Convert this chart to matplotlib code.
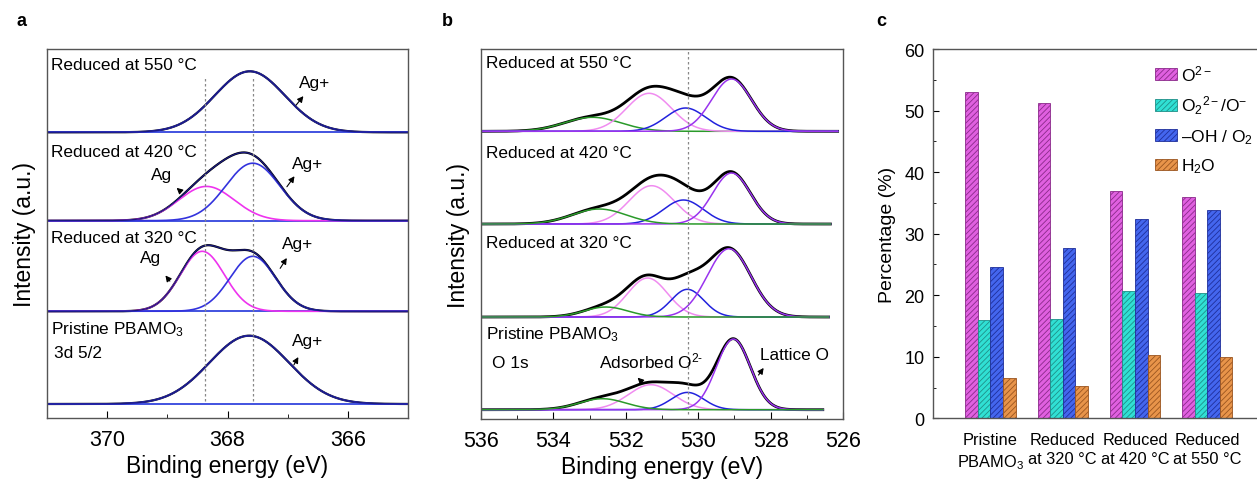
import matplotlib
matplotlib.use("Agg")
import matplotlib.pyplot as plt
import numpy as np
from matplotlib.ticker import MultipleLocator

plt.rcParams['font.family'] = ['Liberation Sans', 'DejaVu Sans']
plt.rcParams['mathtext.fontset'] = 'custom'
plt.rcParams['mathtext.rm'] = 'Liberation Sans'
plt.rcParams['mathtext.it'] = 'Liberation Sans:italic'
plt.rcParams['mathtext.bf'] = 'Liberation Sans:bold'
plt.rcParams['hatch.linewidth'] = 0.6

# ---- panel a: Ag 3d 5/2 fitted peaks (top to bottom) ----
a_names = ['Reduced at 550 °C', 'Reduced at 420 °C', 'Reduced at 320 °C', 'Pristine PBAMO$_3$']
a_agp_center = [367.63, 367.58, 367.58, 367.64]   # Ag+
a_agp_height = [0.61, 0.575, 0.55, 0.683]
a_agp_sigma = [0.58, 0.45, 0.38, 0.66]
a_ag_center = [368.35, 368.35, 368.42, 368.35]    # metallic Ag
a_ag_height = [0.0, 0.343, 0.60, 0.0]
a_ag_sigma = [0.46, 0.46, 0.37, 0.46]
a_marks = [368.37, 367.57]

# ---- panel b: O 1s fitted peaks (top to bottom) ----
b_names = ['Reduced at 550 °C', 'Reduced at 420 °C', 'Reduced at 320 °C', 'Pristine PBAMO$_3$']
b_green_c = [532.92, 532.74, 532.55, 532.65]
b_green_h = [0.14, 0.15, 0.10, 0.11]
b_green_s = [0.78, 0.75, 0.60, 0.65]
b_pink_c = [531.36, 531.29, 531.40, 531.31]
b_pink_h = [0.38, 0.383, 0.39, 0.25]
b_pink_s = [0.62, 0.62, 0.55, 0.62]
b_blue_c = [530.35, 530.41, 530.30, 530.30]
b_blue_h = [0.233, 0.24, 0.277, 0.173]
b_blue_s = [0.55, 0.55, 0.45, 0.45]
b_purp_c = [529.08, 529.08, 529.15, 529.03]
b_purp_h = [0.523, 0.51, 0.683, 0.707]
b_purp_s = [0.55, 0.52, 0.60, 0.47]
b_end = [526.15, 526.35, 526.4, 526.56]
b_mark = 530.28

# ---- panel c: oxygen species percentages ----
c_groups = ['Pristine\nPBAMO$_3$', 'Reduced\nat 320 °C', 'Reduced\nat 420 °C', 'Reduced\nat 550 °C']
c_series = ['O$^{2-}$', 'O$_2$$^{2-}$/O$^{-}$', '–OH / O$_2$', 'H$_2$O']
c_o2 = [53.0, 51.2, 36.9, 36.0]
c_o22 = [15.9, 16.2, 20.6, 20.3]
c_oh = [24.6, 27.6, 32.3, 33.9]
c_h2o = [6.6, 5.2, 10.3, 10.0]


def gauss(x, c, h, s):
    return h * np.exp(-(x - c) ** 2 / (2 * s ** 2))


def frame(ax):
    for sp in ax.spines.values():
        sp.set_color('#555555')
        sp.set_linewidth(1.0)


fig = plt.figure(figsize=(12.57, 4.85), dpi=100)

# ================= panel a =================
axa = fig.add_axes([0.0374, 0.1361, 0.2872, 0.7608])
a_base = [2.857, 1.973, 1.067, 0.14]
xa = np.linspace(371, 365, 600)
for i in range(4):
    b0 = a_base[i]
    agp = gauss(xa, a_agp_center[i], a_agp_height[i], a_agp_sigma[i])
    ag = gauss(xa, a_ag_center[i], a_ag_height[i], a_ag_sigma[i])
    axa.plot(xa, b0 + agp + ag, color='black', lw=1.6)
    axa.plot(xa, np.full_like(xa, b0), color='#3344dd', lw=1.3)
    if a_ag_height[i] > 0:
        axa.plot(xa, b0 + ag, color='#ee33ee', lw=1.2)
    axa.plot(xa, b0 + agp, color='#3333dd', lw=1.2)
    axa.plot(xa, b0 + agp + ag, color='#1a1a80', lw=0.9)
for m in a_marks:
    axa.plot([m, m], [0.17, 3.42], color='#888888', lw=0.9, ls=(0, (2, 2)))

txt = dict(fontsize=12.4, va='center', ha='left')
for name, y in zip(a_names, [3.54, 2.67, 1.80, 0.89]):
    axa.text(370.93, y, name, **txt)
axa.text(370.88, 0.657, '3d 5/2', **txt)
arr = dict(arrowstyle='-|>,head_length=0.35,head_width=0.18', color='black', lw=0.8)
a_notes = [('Ag+', (366.56, 3.357), (366.71, 3.24), (366.89, 3.107)),
           ('Ag+', (366.67, 2.54), (366.86, 2.44), (367.04, 2.29)),
           ('Ag', (369.09, 2.43), (368.88, 2.32), (368.75, 2.25)),
           ('Ag', (369.28, 1.607), (369.06, 1.447), (368.93, 1.347)),
           ('Ag+', (366.83, 1.74), (366.99, 1.623), (367.15, 1.473)),
           ('Ag+', (366.67, 0.773), (366.80, 0.633), (366.92, 0.507))]
for lab, tp, head, tail in a_notes:
    axa.text(tp[0], tp[1], lab, fontsize=12.4, ha='center', va='center')
    axa.annotate('', xy=head, xytext=tail, arrowprops=arr)

axa.set_xlim(371, 365)
axa.set_ylim(0, 3.69)
axa.set_yticks([])
axa.xaxis.set_major_locator(MultipleLocator(2))
axa.xaxis.set_minor_locator(MultipleLocator(1))
axa.tick_params(axis='x', which='both', direction='in', labelsize=15.5, pad=8)
axa.tick_params(axis='x', which='major', length=5)
axa.tick_params(axis='x', which='minor', length=3)
axa.set_xlabel('Binding energy (eV)', fontsize=16.5, labelpad=3)
axa.set_ylabel('Intensity (a.u.)', fontsize=16.5, labelpad=8)
frame(axa)

# ================= panel b =================
axb = fig.add_axes([0.3827, 0.134, 0.288, 0.7629])
b_base = [2.877, 1.95, 1.02, 0.093]
for i in range(4):
    b0 = b_base[i]
    xb = np.linspace(536, b_end[i], 600)
    g = gauss(xb, b_green_c[i], b_green_h[i], b_green_s[i])
    p = gauss(xb, b_pink_c[i], b_pink_h[i], b_pink_s[i])
    bl = gauss(xb, b_blue_c[i], b_blue_h[i], b_blue_s[i])
    pu = gauss(xb, b_purp_c[i], b_purp_h[i], b_purp_s[i])
    axb.plot(xb, b0 + g + p + bl + pu, color='black', lw=2.0)
    comps = [(p, '#f08cf0'), (bl, '#2222dd'), (pu, '#9933ee'), (g, '#2a9a2a')]
    if i == 0:
        comps = [(g, '#2a9a2a'), (p, '#f08cf0'), (bl, '#2222dd'), (pu, '#9933ee')]
    for comp, col in comps:
        axb.plot(xb, b0 + comp, color=col, lw=1.1)
axb.plot([b_mark, b_mark], [0.05, 3.68], color='#888888', lw=0.9, ls=(0, (2, 2)))
for name, y in zip(b_names, [3.567, 2.667, 1.77, 0.85]):
    axb.text(535.87, y, name, **txt)
axb.text(535.69, 0.567, 'O 1s', **txt)
b_notes = [('Adsorbed O$^{2\\text{-}}$', (531.31, 0.583), (531.73, 0.433), (531.50, 0.35)),
           ('Lattice O', (527.35, 0.65), (528.15, 0.533), (528.38, 0.417))]
for lab, tp, head, tail in b_notes:
    axb.text(tp[0], tp[1], lab, fontsize=12.4, ha='center', va='center')
    axb.annotate('', xy=head, xytext=tail, arrowprops=arr)
axb.set_xlim(536, 526)
axb.set_ylim(0, 3.7)
axb.set_yticks([])
axb.xaxis.set_major_locator(MultipleLocator(2))
axb.xaxis.set_minor_locator(MultipleLocator(1))
axb.tick_params(axis='x', which='both', direction='in', labelsize=15.5, pad=8)
axb.tick_params(axis='x', which='major', length=5)
axb.tick_params(axis='x', which='minor', length=3)
axb.set_xlabel('Binding energy (eV)', fontsize=16.5, labelpad=3)
axb.set_ylabel('Intensity (a.u.)', fontsize=16.5, labelpad=8)
frame(axb)

# ================= panel c =================
axc = fig.add_axes([0.742, 0.1355, 0.292, 0.7614])
xc = np.arange(len(c_groups))
w = 0.174
fills = ['#e060e0', '#30e0d4', '#4466ee', '#e8944a']
edges = ['#8a2a8a', '#1f8f88', '#1f2f9a', '#9a5520']
for k, vals in enumerate([c_o2, c_o22, c_oh, c_h2o]):
    axc.bar(xc + (k - 1.5) * w, vals, w, color=fills[k], edgecolor=edges[k],
            hatch='//////', lw=0.6, label=c_series[k])
axc.set_xlim(-0.80, 4.28)
axc.set_ylim(0, 60)
axc.yaxis.set_major_locator(MultipleLocator(10))
axc.yaxis.set_minor_locator(MultipleLocator(5))
axc.tick_params(axis='y', which='both', direction='in', labelsize=13, pad=6)
axc.tick_params(axis='y', which='major', length=4)
axc.tick_params(axis='y', which='minor', length=2.5)
axc.set_xticks(xc)
axc.set_xticklabels(c_groups, fontsize=11.8, linespacing=1.35)
axc.tick_params(axis='x', length=0, pad=10)
axc.set_ylabel('Percentage (%)', fontsize=14, labelpad=6)
axc.legend(loc='upper left', bbox_to_anchor=(0.605, 0.962), frameon=False, fontsize=12.5,
           handlelength=1.3, handleheight=0.65, handletextpad=0.2, labelspacing=0.62,
           borderpad=0, borderaxespad=0)
frame(axc)

fig.text(0.0175, 0.955, 'a', fontsize=13, fontweight='bold', ha='center', va='center')
fig.text(0.3556, 0.955, 'b', fontsize=13, fontweight='bold', ha='center', va='center')
fig.text(0.7009, 0.955, 'c', fontsize=13, fontweight='bold', ha='center', va='center')

fig.savefig('out.png', dpi=100)
